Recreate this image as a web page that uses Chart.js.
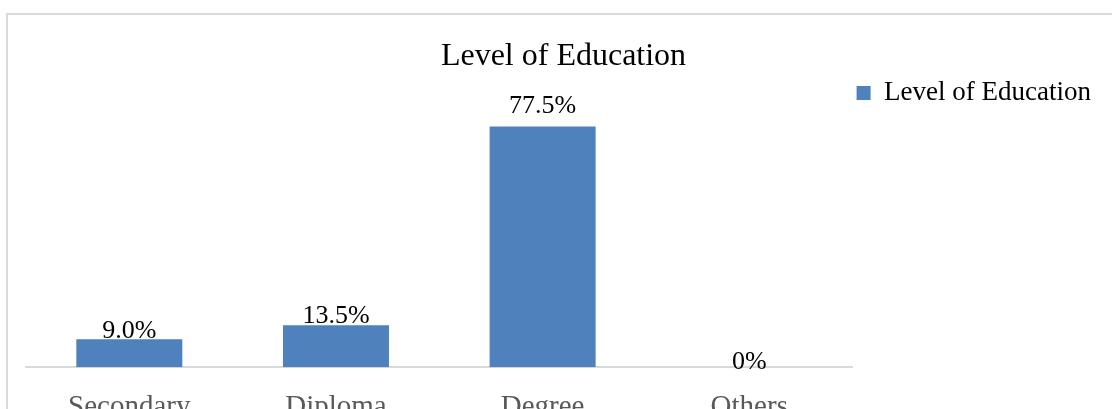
<!DOCTYPE html>
<html>
<head>
<meta charset="utf-8">
<script src="https://cdn.jsdelivr.net/npm/chart.js@4.4.1/dist/chart.umd.min.js"></script>
<style>
  html, body { margin: 0; padding: 0; background: #fff; overflow: hidden; }
  #wrap { position: relative; width: 1112px; height: 409px; overflow: hidden; }
  #frame { position: absolute; left: 6px; top: 13px; width: 1200px; height: 500px;
           border-left: 2px solid #d9d9d9; border-top: 2px solid #d9d9d9; }
  #box { position: absolute; left: 0; top: 0; width: 1112px; height: 450px; }
</style>
</head>
<body>
<div id="wrap">
  <div id="frame"></div>
  <div id="box"><canvas id="myChart"></canvas></div>
</div>
<script>
var categorias = ["Secondary", "Diploma", "Degree", "Others"];
var valores = [9.0, 13.5, 77.5, 0];
var serie = "Level of Education";

var fuente = "'Liberation Serif', 'Times New Roman', serif";

// etiquetas de valor encima de cada barra
var etiquetas = {
    id: 'etiquetas',
    afterDatasetsDraw: function (chart, args, opts) {
        var ctx = chart.ctx;
        var meta = chart.getDatasetMeta(0);
        ctx.save();
        ctx.font = "26px " + fuente;
        ctx.fillStyle = "#000";
        ctx.textAlign = "center";
        ctx.textBaseline = "alphabetic";
        meta.data.forEach(function (bar, i) {
            var v = valores[i];
            var txt = v === 0 ? "0%" : v.toFixed(1) + "%";
            ctx.fillText(txt, bar.x, bar.y + opts.nudge[i]);
        });
        ctx.restore();
    }
};

var ctx = document.getElementById('myChart').getContext('2d');
var chart = new Chart(ctx, {
    type: 'bar',
    data: {
        labels: categorias,
        datasets: [{
            label: serie,
            backgroundColor: '#4f81bd',
            data: valores,
            categoryPercentage: 1,
            barPercentage: 0.513
        }]
    },
    options: {
        responsive: true,
        maintainAspectRatio: false,
        animation: false,
        layout: { padding: { left: 26, right: 11, top: 13, bottom: 2 } },
        plugins: {
            title: {
                display: true,
                text: serie,
                color: '#000',
                font: { family: fuente, size: 32, weight: 'normal' },
                padding: { top: 24, bottom: 0 }
            },
            legend: {
                position: 'right',
                align: 'start',
                fullSize: false,
                labels: {
                    color: '#000',
                    font: { family: fuente, size: 27 },
                    boxWidth: 14,
                    boxHeight: 14,
                    padding: 4
                }
            },
            tooltip: { enabled: false },
            etiquetas: { nudge: [-1, -2, -14, 2] }
        },
        scales: {
            x: {
                grid: { display: false, drawTicks: false },
                border: { display: true, color: '#d9d9d9', width: 2 },
                ticks: {
                    color: '#595959',
                    padding: 23,
                    font: { family: fuente, size: 29 }
                }
            },
            y: {
                display: false,
                min: 0,
                max: 94
            }
        }
    },
    plugins: [etiquetas]
});
</script>
</body>
</html>
